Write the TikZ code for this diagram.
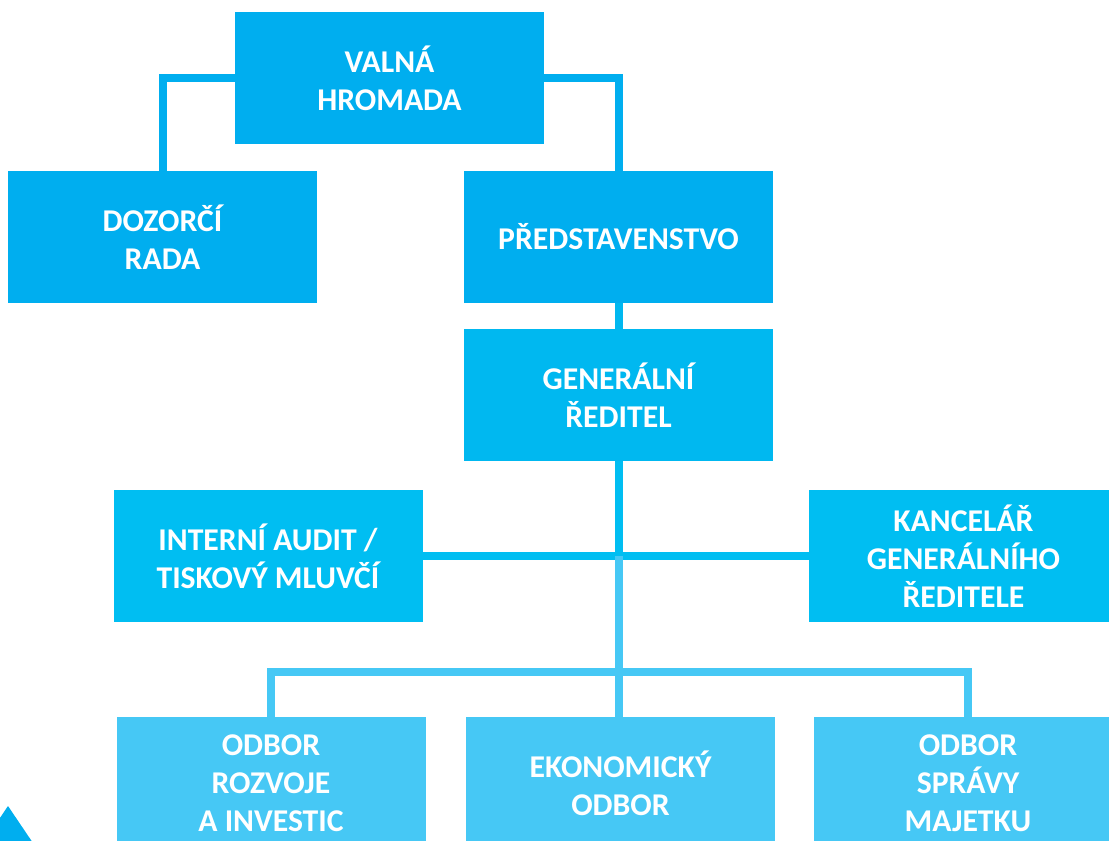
\documentclass[tikz,border=0pt]{standalone}
\usepackage{fontspec}
\setmainfont{Carlito}
\definecolor{topBlue}{RGB}{0,174,239}
\definecolor{genBlue}{RGB}{0,184,240}
\definecolor{midBlue}{RGB}{0,190,242}
\definecolor{lightBlue}{RGB}{70,200,245}
\begin{document}
\begin{tikzpicture}
        [x=1pt, y=-1pt,
        box/.style={rectangle, minimum width=309pt, minimum height=132pt, inner sep=0pt, align=center, text=white, font=\bfseries\fontsize{31.7}{38}\selectfont, fill=topBlue},
        boxMid/.style={box, fill=midBlue},
        boxLight/.style={box, fill=lightBlue},
        link/.style={line width=8pt}]
        \useasboundingbox (0,0) rectangle (1109,841);
        \clip (0,0) rectangle (1109,841);
        \fill[topBlue] (8,806) -- (-19,846) -- (35,846) -- cycle;

        \node[box] (valna) at (389.5,78) {VALNÁ\\HROMADA};
        \node[box] (dozorci) at (162.5,237) {DOZORČÍ\\RADA};
        \node[box] (predst) at (618.5,237) {PŘEDSTAVENSTVO};
        \node[box, fill=genBlue] (gen) at (618.5,395) {GENERÁLNÍ\\ŘEDITEL};
        \node[boxMid] (audit) at (268,556) {INTERNÍ AUDIT /\\TISKOVÝ MLUVČÍ};
        \node[boxMid] (kancelar) at (963.5,556) {KANCELÁŘ\\GENERÁLNÍHO\\ŘEDITELE};
        \node[boxLight] (rozvoj) at (271,783) {ODBOR\\ROZVOJE\\A INVESTIC};
        \node[boxLight] (ekon) at (620.5,783) {EKONOMICKÝ\\ODBOR};
        \node[boxLight] (sprava) at (968,783) {ODBOR\\SPRÁVY\\MAJETKU};

        \draw[link, topBlue] (valna.west) -| (dozorci.north);
        \draw[link, topBlue] (valna.east) -| (predst.north);
        \draw[link, genBlue] (predst.south) -- (gen.north);
        \draw[link, midBlue] (audit.east) -- (kancelar.west);
        \draw[link, midBlue] (gen.south) -- (gen |- audit);
        \draw[link, lightBlue] (gen |- audit) -- (gen |- ekon.north);
        \draw[link, lightBlue] (rozvoj.north) -- ++(0,-45) -| (sprava.north);
\end{tikzpicture}
\end{document}
